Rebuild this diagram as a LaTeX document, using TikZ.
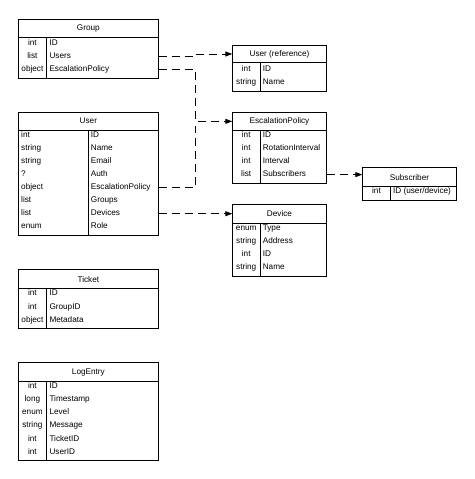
\documentclass[tikz,border=0pt]{standalone}
\usepackage{fontspec}
\setmainfont{Liberation Sans}
\usetikzlibrary{arrows.meta}
\tikzset{
  box/.style={draw, line width=1pt, anchor=north west, inner sep=0pt},
  hdr/.style={box, font=\fontsize{8.2}{10}\selectfont},
  ty/.style={inner sep=0pt, text height=6pt, text depth=1.8pt,
    font=\fontsize{8.2}{10}\selectfont},
  fld/.style={ty, anchor=west},
  col/.style={line width=1pt},
  link/.style={line width=1pt, dash pattern=on 8pt off 5pt,
    -{Triangle[length=7pt,width=5pt]}},
  link0/.style={line width=1pt, dash pattern=on 8pt off 5pt}
}
\begin{document}
\begin{tikzpicture}[x=1pt, y=-1pt]
  \useasboundingbox (0, 0) rectangle (474, 479);

  % Group
  \node [box, minimum width=139.7pt, minimum height=58.5pt] (grp) at (18, 19) {};
  \node [hdr, minimum width=139.7pt, minimum height=18pt] (grpH) at (18, 19) {Group};
  \draw [col] (46.7, 37) -- (46.7, 77.5);
  \node [ty] (grpT1) at (32.4, 43) {int};
  \node [ty] (grpT2) at (32.4, 56.2) {list};
  \node [ty] (grpT3) at (32.4, 69.4) {object};
  \node [fld] (grpID) at (49.3, 43) {ID};
  \node [fld] (grpUsers) at (49.3, 56.2) {Users};
  \node [fld] (grpEsc) at (49.3, 69.4) {EscalationPolicy};

  % User
  \node [box, minimum width=139.7pt, minimum height=123.3pt] (usr) at (18, 111.7) {};
  \node [hdr, minimum width=139.7pt, minimum height=18pt] (usrH) at (18, 111.7) {User};
  \draw [col] (88.3, 129.7) -- (88.3, 235);
  \node [fld] (usrT1) at (21, 135.4) {int};
  \node [fld] (usrT2) at (21, 148.5) {string};
  \node [fld] (usrT3) at (21, 161.5) {string};
  \node [fld] (usrT4) at (21, 174.6) {?};
  \node [fld] (usrT5) at (21, 187.6) {object};
  \node [fld] (usrT6) at (21, 200.7) {list};
  \node [fld] (usrT7) at (21, 213.7) {list};
  \node [fld] (usrT8) at (21, 226.8) {enum};
  \node [fld] (usrID) at (90.7, 135.4) {ID};
  \node [fld] (usrName) at (90.7, 148.5) {Name};
  \node [fld] (usrEmail) at (90.7, 161.5) {Email};
  \node [fld] (usrAuth) at (90.7, 174.6) {Auth};
  \node [fld] (usrEsc) at (90.7, 187.6) {EscalationPolicy};
  \node [fld] (usrGroups) at (90.7, 200.7) {Groups};
  \node [fld] (usrDevices) at (90.7, 213.7) {Devices};
  \node [fld] (usrRole) at (90.7, 226.8) {Role};

  % Ticket
  \node [box, minimum width=139.7pt, minimum height=59pt] (tkt) at (18, 269.3) {};
  \node [hdr, minimum width=139.7pt, minimum height=18.7pt] (tktH) at (18, 269.3) {Ticket};
  \draw [col] (46.7, 288) -- (46.7, 328.3);
  \node [ty] (tktT1) at (32.4, 293.6) {int};
  \node [ty] (tktT2) at (32.4, 306.9) {int};
  \node [ty] (tktT3) at (32.4, 320.2) {object};
  \node [fld] (tktID) at (49.3, 293.6) {ID};
  \node [fld] (tktGroup) at (49.3, 306.9) {GroupID};
  \node [fld] (tktMeta) at (49.3, 320.2) {Metadata};

  % LogEntry
  \node [box, minimum width=139.7pt, minimum height=97.7pt] (log) at (18, 362.3) {};
  \node [hdr, minimum width=139.7pt, minimum height=18.7pt] (logH) at (18, 362.3) {LogEntry};
  \draw [col] (46.7, 381) -- (46.7, 460);
  \node [ty] (logT1) at (32.4, 386.3) {int};
  \node [ty] (logT2) at (32.4, 399.5) {long};
  \node [ty] (logT3) at (32.4, 412.6) {enum};
  \node [ty] (logT4) at (32.4, 425.7) {string};
  \node [ty] (logT5) at (32.4, 438.9) {int};
  \node [ty] (logT6) at (32.4, 452) {int};
  \node [fld] (logID) at (49.3, 386.3) {ID};
  \node [fld] (logTime) at (49.3, 399.5) {Timestamp};
  \node [fld] (logLevel) at (49.3, 412.6) {Level};
  \node [fld] (logMsg) at (49.3, 425.7) {Message};
  \node [fld] (logTicket) at (49.3, 438.9) {TicketID};
  \node [fld] (logUser) at (49.3, 452) {UserID};

  % User (reference)
  \node [box, minimum width=93.4pt, minimum height=46pt] (uref) at (232.3, 44.7) {};
  \node [hdr, minimum width=93.4pt, minimum height=17.6pt] (urefH) at (232.3, 44.7) {User (reference)};
  \draw [col] (260.2, 62.3) -- (260.2, 90.7);
  \node [ty] (urefT1) at (246.2, 69.3) {int};
  \node [ty] (urefT2) at (246.2, 82.3) {string};
  \node [fld] (urefID) at (262.6, 69.3) {ID};
  \node [fld] (urefName) at (262.6, 82.3) {Name};

  % EscalationPolicy
  \node [box, minimum width=93.4pt, minimum height=71.6pt] (ep) at (232.3, 111.7) {};
  \node [hdr, minimum width=93.4pt, minimum height=18.3pt] (epH) at (232.3, 111.7) {EscalationPolicy};
  \draw [col] (260.2, 130) -- (260.2, 183.3);
  \node [ty] (epT1) at (246.2, 135.4) {int};
  \node [ty] (epT2) at (246.2, 148.5) {int};
  \node [ty] (epT3) at (246.2, 161.5) {int};
  \node [ty] (epT4) at (246.2, 174.6) {list};
  \node [fld] (epID) at (262.6, 135.4) {ID};
  \node [fld] (epRot) at (262.6, 148.5) {RotationInterval};
  \node [fld] (epInt) at (262.6, 161.5) {Interval};
  \node [fld] (epSubs) at (262.6, 174.6) {Subscribers};

  % Device
  \node [box, minimum width=93.4pt, minimum height=71.7pt] (dev) at (232.3, 204.3) {};
  \node [hdr, minimum width=93.4pt, minimum height=18.4pt] (devH) at (232.3, 204.3) {Device};
  \draw [col] (260.2, 222.7) -- (260.2, 276);
  \node [ty] (devT1) at (246.2, 228.3) {enum};
  \node [ty] (devT2) at (246.2, 241.4) {string};
  \node [ty] (devT3) at (246.2, 254.6) {int};
  \node [ty] (devT4) at (246.2, 267.7) {string};
  \node [fld] (devType) at (262.6, 228.3) {Type};
  \node [fld] (devAddr) at (262.6, 241.4) {Address};
  \node [fld] (devID) at (262.6, 254.6) {ID};
  \node [fld] (devName) at (262.6, 267.7) {Name};

  % Subscriber
  \node [box, minimum width=93.4pt, minimum height=32.7pt] (sub) at (362.3, 167.3) {};
  \node [hdr, minimum width=93.4pt, minimum height=18.7pt] (subH) at (362.3, 167.3) {Subscriber};
  \draw [col] (390.7, 186) -- (390.7, 200);
  \node [ty] (subT1) at (376.5, 191.6) {int};
  \node [fld] (subID) at (392.9, 191.6) {ID (user/device)};

  % links
  \coordinate (jog) at (195, 0);
  \draw [link] (grp.east |- grpUsers) -- (jog |- grpUsers) -- (jog |- urefH)
    -- (urefH.west);
  \draw [link] (grp.east |- grpEsc) -- (jog |- grpEsc) -- (jog |- epH)
    -- (epH.west);
  \draw [link0] (usr.east |- usrEsc) -- (jog |- usrEsc) -- ([yshift=-5pt]jog |- epH);
  \draw [link] (usr.east |- usrDevices) -- (devH.west |- usrDevices);
  \draw [link] (ep.east |- epSubs) -- (subH.west |- epSubs);
\end{tikzpicture}
\end{document}
